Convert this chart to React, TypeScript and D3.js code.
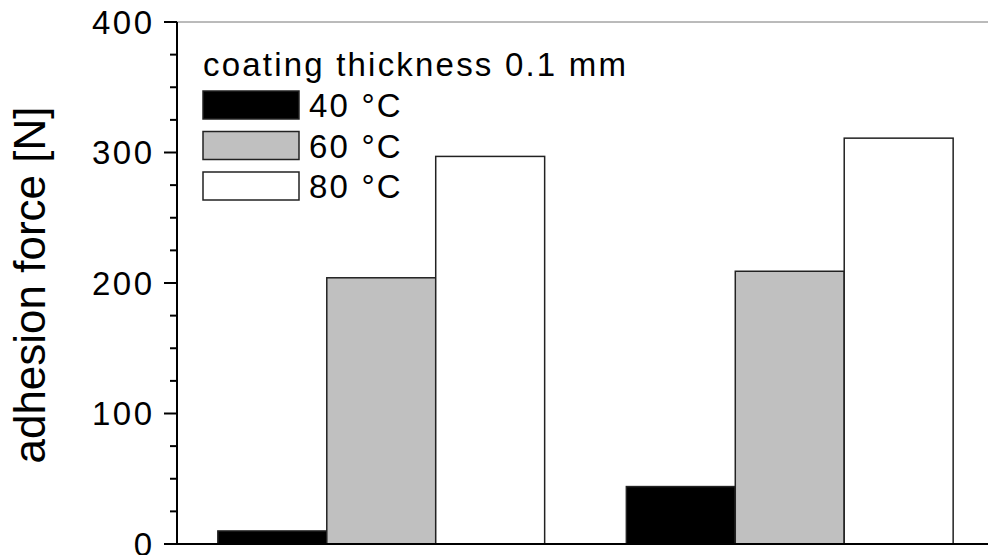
import React from "react";
import * as d3 from "d3";

// groups along x (no labels shown on the axis)
const groups = ["sample A", "sample B"];
const series = ["40 °C", "60 °C", "80 °C"];
const fills = ["#000000", "#c0c0c0", "#ffffff"];

// adhesion force [N] per group, one list per temperature
const force40 = [10, 44];
const force60 = [204, 209];
const force80 = [297, 311];

const yTicks = [0, 100, 200, 300, 400];
const legendTitle = "coating thickness 0.1 mm";

const width = 988;
const height = 555;
const marginLeft = 177;
const marginTop = 22;
const bottom = 544;
const font = "'Liberation Sans', Arial, sans-serif";
const tickSpacing = 2.5;

export default function App() {
  const values = [force40, force60, force80];

  const x = d3.scaleBand().domain(groups).range([marginLeft, 994]).paddingInner(0.2).paddingOuter(0.1);
  const xi = d3.scaleBand().domain(series).range([0, x.bandwidth()]);
  const y = d3.scaleLinear().domain([0, 400]).range([bottom, marginTop]);

  const minor = d3.range(0, 401, 25).filter(v => v % 100 !== 0);

  return (
    <svg
      width={width}
      height={height}
      style={{ position: "absolute", left: 0, top: 0, background: "#fff" }}
      fontFamily={font}
    >
      {/* bars */}
      {groups.map((g, gi) => (
        <g key={g} transform={`translate(${x(g)},0)`}>
          {series.map((s, si) => (
            <rect
              key={s}
              x={xi(s)}
              y={y(values[si][gi])}
              width={xi.bandwidth()}
              height={y(0) - y(values[si][gi])}
              fill={fills[si]}
              stroke="#222"
              strokeWidth={1.5}
            />
          ))}
        </g>
      ))}

      {/* frame */}
      <line x1={marginLeft} x2={width} y1={marginTop} y2={marginTop} stroke="#777" strokeWidth={1} />
      <line x1={164} x2={width} y1={bottom} y2={bottom} stroke="#000" strokeWidth={2} />
      <line x1={marginLeft} x2={marginLeft} y1={marginTop} y2={bottom} stroke="#000" strokeWidth={2} />

      {/* y ticks */}
      {yTicks.map(t => (
        <g key={t}>
          <line x1={164} x2={marginLeft} y1={y(t)} y2={y(t)} stroke="#000" strokeWidth={2} />
          <text
            x={152 + tickSpacing}
            y={y(t) + 11.5}
            textAnchor="end"
            fontSize={33}
            letterSpacing={tickSpacing}
            fill="#000"
          >
            {t}
          </text>
        </g>
      ))}
      {minor.map(t => (
        <line key={t} x1={170} x2={marginLeft} y1={y(t)} y2={y(t)} stroke="#000" strokeWidth={2} />
      ))}

      {/* y label */}
      <text transform="translate(45,285) rotate(-90)" textAnchor="middle" fontSize={44} fill="#000">
        adhesion force [N]
      </text>

      {/* legend */}
      <text x={203} y={76} fontSize={33} letterSpacing={2.2} fill="#000">
        {legendTitle}
      </text>
      {series.map((s, i) => (
        <g key={s} transform={`translate(0,${i * 40.5})`}>
          <rect x={203} y={91} width={96} height={28} fill={fills[i]} stroke="#222" strokeWidth={1.5} />
          <text x={309} y={117} fontSize={33} letterSpacing={2.2} fill="#000">
            {s}
          </text>
        </g>
      ))}
    </svg>
  );
}
